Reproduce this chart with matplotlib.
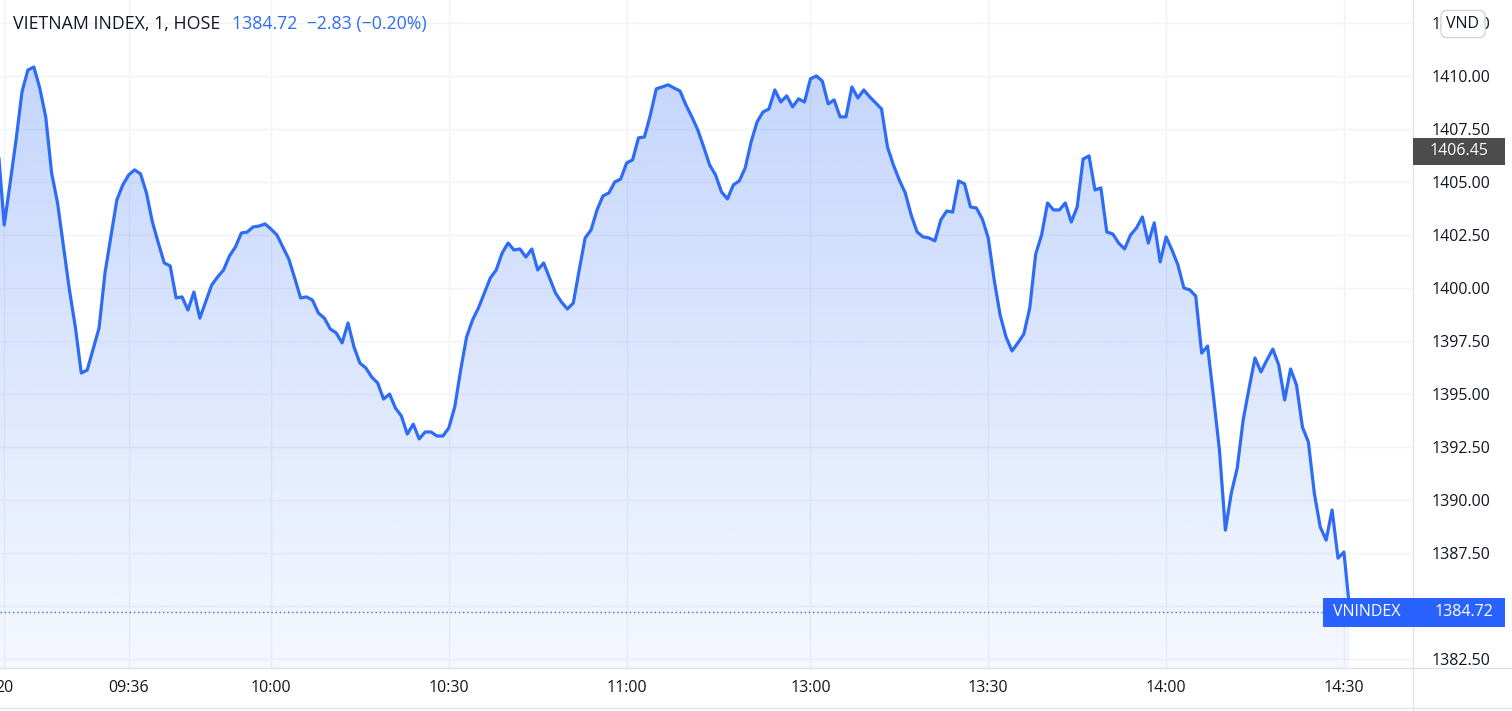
import matplotlib.pyplot as plt
import numpy as np
from matplotlib.patches import Polygon, FancyBboxPatch
from matplotlib.lines import Line2D
from matplotlib.colors import to_rgb

# 1-minute bars: 0 = 09:15, 135 = 11:30, 136 = 13:00
bar = [-1, 0, 1, 2, 3, 4, 5, 6, 7, 8, 9, 11, 12, 13, 14, 16, 17, 19, 20, 21,
       22, 23, 24, 25, 26, 27, 28, 29, 30, 31, 32, 33, 35, 36, 37, 38, 39, 40, 41, 42,
       43, 44, 45, 46, 47, 48, 49, 50, 51, 52, 53, 54, 55, 56, 57, 58, 59, 60, 61, 62,
       63, 64, 65, 66, 67, 68, 69, 70, 71, 72, 73, 74, 75, 76, 77, 78, 79, 80, 81, 82,
       83, 84, 85, 86, 87, 88, 89, 90, 91, 92, 93, 94, 95, 96, 97, 98, 99, 100, 101, 102,
       103, 104, 105, 106, 107, 108, 109, 110, 111, 112, 113, 114, 115, 116, 117, 118, 119, 120, 121, 122,
       123, 124, 125, 126, 127, 128, 129, 130, 131, 132, 133, 134, 135, 136, 137, 138, 139, 140, 141, 142,
       143, 144, 145, 146, 147, 148, 149, 150, 151, 152, 153, 154, 155, 156, 157, 158, 159, 160, 161, 162,
       163, 164, 165, 166, 167, 168, 169, 170, 171, 172, 173, 174, 175, 176, 177, 178, 179, 180, 181, 182,
       183, 184, 185, 186, 187, 188, 189, 190, 191, 192, 193, 194, 195, 196, 197, 198, 199, 200, 201, 202,
       203, 204, 205, 206, 207, 208, 209, 210, 211, 212, 213, 214, 215, 216, 217, 218, 219, 220, 221, 222,
       223, 224, 225, 226, 227]
close = [1406.51, 1402.97, 1404.95, 1406.98, 1409.25, 1410.28, 1410.42, 1409.43, 1408.07, 1405.42,
         1404.01, 1399.91, 1398.16, 1395.99, 1396.13, 1398.11, 1400.71, 1404.15, 1404.86, 1405.33,
         1405.57, 1405.38, 1404.48, 1403.11, 1402.12, 1401.18, 1401.04, 1399.53, 1399.58, 1398.96,
         1399.81, 1398.58, 1400.14, 1400.52, 1400.85, 1401.51, 1401.93, 1402.59, 1402.64, 1402.88,
         1402.92, 1403.02, 1402.78, 1402.50, 1401.93, 1401.37, 1400.47, 1399.53, 1399.58, 1399.43,
         1398.82, 1398.58, 1398.07, 1397.88, 1397.41, 1398.35, 1397.22, 1396.46, 1396.23, 1395.80,
         1395.52, 1394.76, 1395.00, 1394.34, 1393.96, 1393.11, 1393.58, 1392.88, 1393.21, 1393.21,
         1393.02, 1393.02, 1393.40, 1394.39, 1396.13, 1397.69, 1398.49, 1399.06, 1399.76, 1400.47,
         1400.85, 1401.65, 1402.12, 1401.79, 1401.84, 1401.46, 1401.84, 1400.85, 1401.18, 1400.47,
         1399.76, 1399.34, 1399.01, 1399.29, 1400.85, 1402.36, 1402.74, 1403.68, 1404.34, 1404.48,
         1405.00, 1405.14, 1405.90, 1406.04, 1407.08, 1407.12, 1408.16, 1409.39, 1409.48, 1409.58,
         1409.43, 1409.29, 1408.63, 1408.07, 1407.45, 1406.65, 1405.80, 1405.33, 1404.53, 1404.20,
         1404.86, 1405.05, 1405.66, 1406.89, 1407.83, 1408.30, 1408.44, 1409.34, 1408.77, 1409.06,
         1408.54, 1408.92, 1408.77, 1409.86, 1410.00, 1409.76, 1408.68, 1408.87, 1408.07, 1408.07,
         1409.48, 1408.96, 1409.34, 1409.01, 1408.73, 1408.44, 1406.65, 1405.80, 1405.09, 1404.48,
         1403.44, 1402.64, 1402.41, 1402.36, 1402.22, 1403.21, 1403.63, 1403.58, 1405.05, 1404.91,
         1403.82, 1403.77, 1403.25, 1402.36, 1400.38, 1398.73, 1397.69, 1397.03, 1397.41, 1397.83,
         1399.06, 1401.60, 1402.50, 1404.01, 1403.68, 1403.68, 1404.01, 1403.11, 1403.82, 1406.08,
         1406.23, 1404.62, 1404.72, 1402.64, 1402.55, 1402.12, 1401.84, 1402.50, 1402.83, 1403.35,
         1402.12, 1403.07, 1401.23, 1402.41, 1401.79, 1401.08, 1400.00, 1399.91, 1399.62, 1396.93,
         1397.26, 1394.86, 1392.36, 1388.58, 1390.33, 1391.51, 1393.77, 1395.28, 1396.70, 1396.04,
         1396.60, 1397.12, 1396.37, 1394.72, 1396.18, 1395.42, 1393.44, 1392.74, 1390.33, 1388.73,
         1388.11, 1389.53, 1387.26, 1387.55, 1384.72]

time_ticks = [0, 21, 45, 75, 105, 136, 166, 196, 226]
time_labels = ['20', '09:36', '10:00', '10:30', '11:00', '13:00', '13:30', '14:00', '14:30']
price_ticks = np.arange(1382.5, 1413.0, 2.5)
last_price = 1384.72
marker_price = 1406.45

blue = '#2e6cf6'
text_c = '#131722'
line_c = '#e0e3eb'
plt.rcParams['font.family'] = ['Open Sans', 'DejaVu Sans']

fig = plt.figure(figsize=(15.12, 7.11), dpi=100)
W, H = 1512, 711
ax = fig.add_axes([0, 43 / H, 1413 / W, 668 / H])
ax.patch.set_visible(False)

x_lo, x_hi = -0.71, 237.65
y_lo, y_hi = 1382.08, 1413.58

xs = np.array(bar, dtype=float)
ys = np.array(close)

# gradient area under the line
verts = np.column_stack([np.r_[xs, xs[::-1]], np.r_[ys, np.full(len(xs), y_lo)]])
area = Polygon(verts, closed=True, fc='none', ec='none')
ax.add_patch(area)
grad = np.zeros((256, 1, 4))
grad[..., :3] = to_rgb(blue)
grad[..., 3] = np.linspace(0.28, 0.05, 256)[:, None]
im = ax.imshow(grad, extent=[xs.min(), xs.max(), y_lo, ys.max()],
               aspect='auto', origin='upper', zorder=1)
im.set_clip_path(area)

ax.plot(xs, ys, color=blue, lw=2.3, zorder=3, solid_joinstyle='round')
ax.axhline(last_price, color=blue, lw=1, ls=(0, (1, 2)), zorder=2)

ax.set_xlim(x_lo, x_hi)
ax.set_ylim(y_lo, y_hi)

ax.set_yticks(price_ticks)
ax.set_yticklabels([f'{v:.2f}' for v in price_ticks])
ax.yaxis.tick_right()
ax.set_xticks(time_ticks)
ax.set_xticklabels(time_labels)
ax.tick_params(axis='y', length=0, pad=13, labelsize=11.5, labelcolor=text_c)
ax.tick_params(axis='x', length=0, pad=9, labelsize=11.5, labelcolor=text_c)
ax.grid(True, color='#f0f3fa', lw=1, zorder=0)
ax.set_axisbelow(True)
for s in ax.spines.values():
    s.set_visible(False)

# separators of the price and time scales (behind the axes content)
fig.add_artist(Line2D([1413 / W, 1413 / W], [0, 1], color=line_c, lw=1, zorder=-1))
fig.add_artist(Line2D([0, 1], [43 / H, 43 / H], color=line_c, lw=1, zorder=-1))
fig.add_artist(Line2D([0, 1], [3 / H, 3 / H], color=line_c, lw=1, zorder=-1))

# price labels on the scale
tr = ax.get_yaxis_transform()
px = (y_hi - y_lo) / 668
ax.add_patch(FancyBboxPatch((1.0, marker_price - 13.5 * px), 92 / 1413, 27 * px,
                            boxstyle='square,pad=0', transform=tr, fc='#4c4c4c', ec='none',
                            clip_on=False, zorder=5))
ax.text(1.0 + 46 / 1413, marker_price, f'{marker_price:.2f}', transform=tr, ha='center',
        va='center', color='white', fontsize=11.5, clip_on=False, zorder=6)

ax.add_patch(FancyBboxPatch((1323 / 1413, last_price - 14.5 * px), 182 / 1413, 29 * px,
                            boxstyle='square,pad=0', transform=tr, fc='#2962ff', ec='none',
                            clip_on=False, zorder=5))
ax.text(1333 / 1413, last_price, 'VNINDEX', transform=tr, ha='left', va='center',
        color='white', fontsize=11.5, clip_on=False, zorder=6)
ax.text(1493 / 1413, last_price, f'{last_price:.2f}', transform=tr, ha='right', va='center',
        color='white', fontsize=11.5, clip_on=False, zorder=6)

# currency badge
fig.text(1463 / W, 1 - 24 / H, 'VND', ha='center', va='center', fontsize=11.5, color=text_c,
         bbox=dict(boxstyle='round,pad=0.35,rounding_size=0.4', fc='white', ec='#d1d4dc', lw=1))

# legend header
fig.text(13 / W, 1 - 24 / H, 'VIETNAM INDEX, 1, HOSE', ha='left', va='center',
         fontsize=12.8, color=text_c)
fig.text(232 / W, 1 - 24 / H, '1384.72  \u22122.83 (\u22120.20%)', ha='left', va='center',
         fontsize=12.8, color=blue)

fig.savefig('out.png', dpi=100)
